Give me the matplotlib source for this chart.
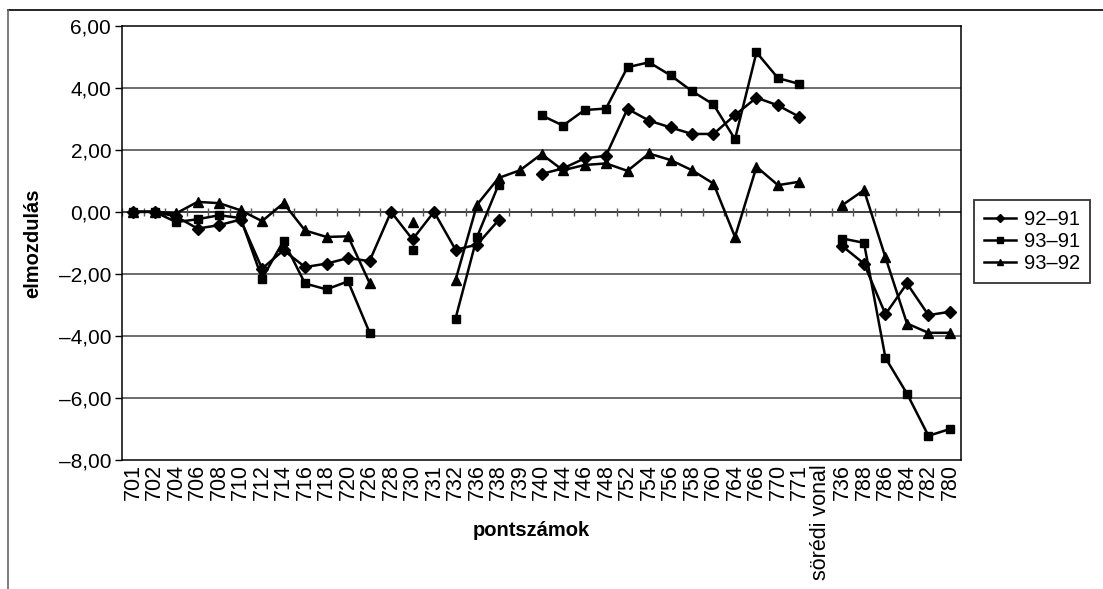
import numpy as np
import matplotlib
matplotlib.use("Agg")
import matplotlib.pyplot as plt
from matplotlib.lines import Line2D
from matplotlib.ticker import FuncFormatter

plt.rcParams['font.family'] = ['Liberation Sans', 'DejaVu Sans']

nan = np.nan
categories = ['701', '702', '704', '706', '708', '710', '712', '714', '716', '718',
              '720', '726', '728', '730', '731', '732', '736', '738', '739', '740',
              '744', '746', '748', '752', '754', '756', '758', '760', '764', '766',
              '770', '771', 'sörédi vonal', '736', '788', '786', '784', '782', '780']

d92_91 = [0, 0, -0.15, -0.54, -0.43, -0.25, -1.83, -1.24, -1.78, -1.67,
          -1.49, -1.59, 0, -0.89, 0, -1.22, -1.06, -0.27, nan, 1.22,
          1.40, 1.72, 1.81, 3.32, 2.94, 2.72, 2.51, 2.51, 3.12, 3.68,
          3.43, 3.06, nan, -1.11, -1.67, -3.30, -2.31, -3.33, -3.22]

d93_91 = [0, 0, -0.33, -0.24, -0.11, -0.20, -2.15, -0.94, -2.31, -2.50,
          -2.24, -3.89, nan, -1.24, nan, -3.44, -0.81, 0.87, nan, 3.11,
          2.78, 3.28, 3.33, 4.66, 4.82, 4.40, 3.89, 3.46, 2.34, 5.14,
          4.31, 4.12, nan, -0.86, -1.00, -4.71, -5.86, -7.22, -7.00]

d93_92 = [0, 0, -0.05, 0.32, 0.28, 0.05, -0.30, 0.28, -0.60, -0.81,
          -0.79, -2.29, nan, -0.33, nan, -2.20, 0.23, 1.09, 1.34, 1.86,
          1.34, 1.51, 1.56, 1.32, 1.88, 1.67, 1.34, 0.91, -0.81, 1.45,
          0.86, 0.97, nan, 0.22, 0.70, -1.47, -3.60, -3.90, -3.90]

fig = plt.figure(figsize=(11.03, 5.89), dpi=100)
ax = fig.add_axes([0.1109, 0.219, 0.7601, 0.7374])

x = np.arange(len(categories))
ax.set_xlim(-0.5, len(categories) - 0.5)
ax.set_ylim(-8, 6)

# horizontal gridlines
for yv in range(-6, 6, 2):
    ax.axhline(yv, color='#444444', lw=1.1, zorder=1)
# zero axis with category boundary ticks
ax.axhline(0, color='#333333', lw=1.1, zorder=1)
ax.vlines(np.arange(len(categories) + 1) - 0.5, -0.13, 0.13, color='#555555', lw=1.0, zorder=1)

ax.plot(x, d92_91, color='black', lw=1.8, marker='D', ms=6.5, label='92\u201391', zorder=3)
ax.plot(x, d93_91, color='black', lw=1.8, marker='s', ms=6.3, label='93\u201391', zorder=3)
ax.plot(x, d93_92, color='black', lw=1.8, marker='^', ms=7.5, label='93\u201392', zorder=3)

ax.set_yticks(np.arange(-8, 7, 2))
ax.yaxis.set_major_formatter(FuncFormatter(
    lambda v, p: ('%.2f' % v).replace('.', ',').replace('-', '\u2013')))
ax.tick_params(axis='y', direction='out', length=5, width=1, labelsize=15, pad=3)

ax.set_xticks(x)
ax.set_xticklabels(categories, rotation=90, fontsize=15.5)
ax.tick_params(axis='x', length=0, pad=3)

for s in ax.spines.values():
    s.set_color('black')
    s.set_linewidth(1.1)

ax.set_ylabel('elmozdulás', fontsize=14.5, fontweight='bold', labelpad=12)
fig.text(531 / 1103, 1 - 530 / 589, 'pontszámok', fontsize=14.5, fontweight='bold',
         ha='center', va='center')

leg = fig.legend(loc='center left', bbox_to_anchor=(0.883, 0.59), fontsize=14.5,
                 frameon=True, fancybox=False, handlelength=1.6, handletextpad=0.4,
                 labelspacing=0.15, borderpad=0.5, borderaxespad=0, markerscale=0.6)
leg.get_frame().set_edgecolor('black')
leg.get_frame().set_linewidth(1.3)

# outer chart border
fig.add_artist(Line2D([8 / 1103, 1.0], [1 - 10 / 589, 1 - 10 / 589], color='black', lw=1.2))
fig.add_artist(Line2D([8 / 1103, 8 / 1103], [0, 1 - 10 / 589], color='#666666', lw=1.2))

fig.savefig('out.png', dpi=100)
